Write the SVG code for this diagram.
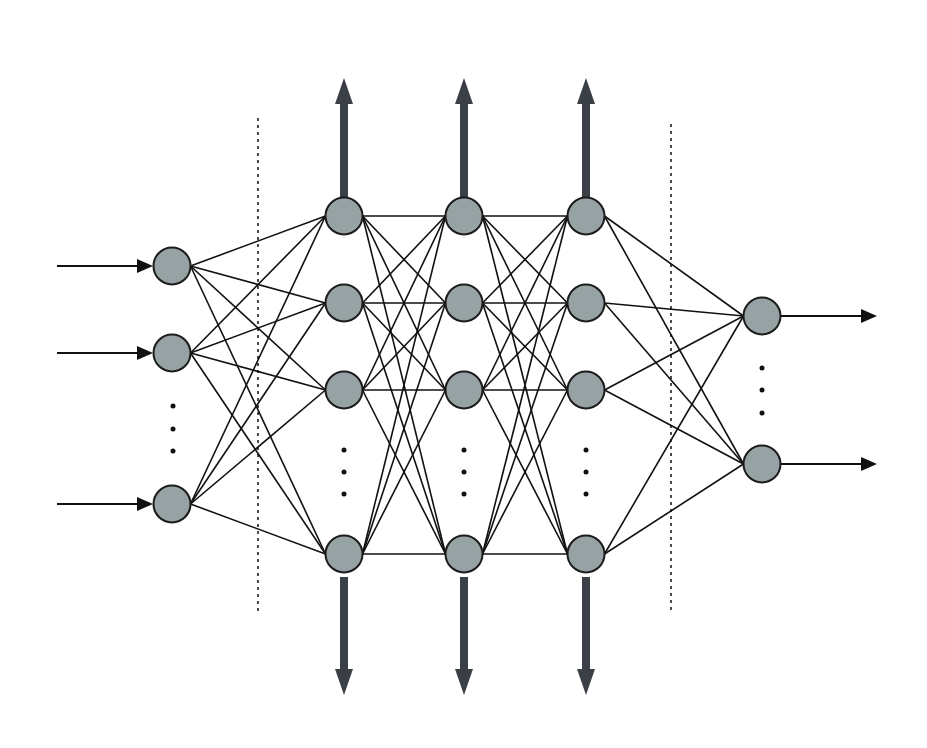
<svg xmlns="http://www.w3.org/2000/svg" width="927" height="748" viewBox="0 0 927 748">
<style>
.bg{fill:#ffffff}
.node{fill:#97a2a5;stroke:#1c1c1c;stroke-width:2}
.conn line{stroke:#111;stroke-width:1.6}
.conn line.io{stroke:#111;stroke-width:1.8}
.head{fill:#111}
.conn line.thick{stroke:#3b3f46;stroke-width:8}
.thead{fill:#3b3f46}
.dash{stroke:#111;stroke-width:1.5;stroke-dasharray:3 4}
.dot{fill:#111}
</style>
<rect class="bg" x="0" y="0" width="927" height="748"/>
<g id="dividers">
<line class="dash" x1="258" y1="118" x2="258" y2="612"/>
<line class="dash" x1="671" y1="124" x2="671" y2="612"/>
</g>
<g id="connectors" class="conn">
<line x1="190.5" y1="266" x2="325.5" y2="216"/><line x1="190.5" y1="266" x2="325.5" y2="303"/><line x1="190.5" y1="266" x2="325.5" y2="390"/><line x1="190.5" y1="266" x2="325.5" y2="554"/>
<line x1="190.5" y1="353" x2="325.5" y2="216"/><line x1="190.5" y1="353" x2="325.5" y2="303"/><line x1="190.5" y1="353" x2="325.5" y2="390"/><line x1="190.5" y1="353" x2="325.5" y2="554"/>
<line x1="190.5" y1="504" x2="325.5" y2="216"/><line x1="190.5" y1="504" x2="325.5" y2="303"/><line x1="190.5" y1="504" x2="325.5" y2="390"/><line x1="190.5" y1="504" x2="325.5" y2="554"/>
<line x1="362.5" y1="216" x2="445.5" y2="216"/><line x1="362.5" y1="216" x2="445.5" y2="303"/><line x1="362.5" y1="216" x2="445.5" y2="390"/><line x1="362.5" y1="216" x2="445.5" y2="554"/>
<line x1="362.5" y1="303" x2="445.5" y2="216"/><line x1="362.5" y1="303" x2="445.5" y2="303"/><line x1="362.5" y1="303" x2="445.5" y2="390"/><line x1="362.5" y1="303" x2="445.5" y2="554"/>
<line x1="362.5" y1="390" x2="445.5" y2="216"/><line x1="362.5" y1="390" x2="445.5" y2="303"/><line x1="362.5" y1="390" x2="445.5" y2="390"/><line x1="362.5" y1="390" x2="445.5" y2="554"/>
<line x1="362.5" y1="554" x2="445.5" y2="216"/><line x1="362.5" y1="554" x2="445.5" y2="303"/><line x1="362.5" y1="554" x2="445.5" y2="390"/><line x1="362.5" y1="554" x2="445.5" y2="554"/>
<line x1="482.5" y1="216" x2="567.5" y2="216"/><line x1="482.5" y1="216" x2="567.5" y2="303"/><line x1="482.5" y1="216" x2="567.5" y2="390"/><line x1="482.5" y1="216" x2="567.5" y2="554"/>
<line x1="482.5" y1="303" x2="567.5" y2="216"/><line x1="482.5" y1="303" x2="567.5" y2="303"/><line x1="482.5" y1="303" x2="567.5" y2="390"/><line x1="482.5" y1="303" x2="567.5" y2="554"/>
<line x1="482.5" y1="390" x2="567.5" y2="216"/><line x1="482.5" y1="390" x2="567.5" y2="303"/><line x1="482.5" y1="390" x2="567.5" y2="390"/><line x1="482.5" y1="390" x2="567.5" y2="554"/>
<line x1="482.5" y1="554" x2="567.5" y2="216"/><line x1="482.5" y1="554" x2="567.5" y2="303"/><line x1="482.5" y1="554" x2="567.5" y2="390"/><line x1="482.5" y1="554" x2="567.5" y2="554"/>
<line x1="604.5" y1="216" x2="743.5" y2="316"/><line x1="604.5" y1="216" x2="743.5" y2="464"/>
<line x1="604.5" y1="303" x2="743.5" y2="316"/><line x1="604.5" y1="303" x2="743.5" y2="464"/>
<line x1="604.5" y1="390" x2="743.5" y2="316"/><line x1="604.5" y1="390" x2="743.5" y2="464"/>
<line x1="604.5" y1="554" x2="743.5" y2="316"/><line x1="604.5" y1="554" x2="743.5" y2="464"/>
<line class="io" x1="57" y1="266" x2="140" y2="266"/><polygon class="head" points="153,266 137,259 137,273"/>
<line class="io" x1="57" y1="353" x2="140" y2="353"/><polygon class="head" points="153,353 137,346 137,360"/>
<line class="io" x1="57" y1="504" x2="140" y2="504"/><polygon class="head" points="153,504 137,497 137,511"/>
<line class="io" x1="781" y1="316" x2="864" y2="316"/><polygon class="head" points="877,316 861,309 861,323"/>
<line class="io" x1="781" y1="464" x2="864" y2="464"/><polygon class="head" points="877,464 861,457 861,471"/>
<line class="thick" x1="344" y1="198" x2="344" y2="100"/><polygon class="thead" points="344,78 335,104 353,104"/>
<line class="thick" x1="464" y1="198" x2="464" y2="100"/><polygon class="thead" points="464,78 455,104 473,104"/>
<line class="thick" x1="586" y1="198" x2="586" y2="100"/><polygon class="thead" points="586,78 577,104 595,104"/>
<line class="thick" x1="344" y1="577" x2="344" y2="673"/><polygon class="thead" points="344,695 335,669 353,669"/>
<line class="thick" x1="464" y1="577" x2="464" y2="673"/><polygon class="thead" points="464,695 455,669 473,669"/>
<line class="thick" x1="586" y1="577" x2="586" y2="673"/><polygon class="thead" points="586,695 577,669 595,669"/>
</g>
<g id="input-layer">
<circle class="node" cx="172" cy="266" r="18.5"/>
<circle class="node" cx="172" cy="353" r="18.5"/>
<circle class="node" cx="172" cy="504" r="18.5"/>
<circle class="dot" cx="173" cy="406" r="2.5"/><circle class="dot" cx="173" cy="429" r="2.5"/><circle class="dot" cx="173" cy="451" r="2.5"/>
</g>
<g id="hidden-layer-1">
<circle class="node" cx="344" cy="216" r="18.5"/>
<circle class="node" cx="344" cy="303" r="18.5"/>
<circle class="node" cx="344" cy="390" r="18.5"/>
<circle class="node" cx="344" cy="554" r="18.5"/>
<circle class="dot" cx="344" cy="450" r="2.5"/><circle class="dot" cx="344" cy="472" r="2.5"/><circle class="dot" cx="344" cy="494" r="2.5"/>
</g>
<g id="hidden-layer-2">
<circle class="node" cx="464" cy="216" r="18.5"/>
<circle class="node" cx="464" cy="303" r="18.5"/>
<circle class="node" cx="464" cy="390" r="18.5"/>
<circle class="node" cx="464" cy="554" r="18.5"/>
<circle class="dot" cx="464" cy="450" r="2.5"/><circle class="dot" cx="464" cy="472" r="2.5"/><circle class="dot" cx="464" cy="494" r="2.5"/>
</g>
<g id="hidden-layer-3">
<circle class="node" cx="586" cy="216" r="18.5"/>
<circle class="node" cx="586" cy="303" r="18.5"/>
<circle class="node" cx="586" cy="390" r="18.5"/>
<circle class="node" cx="586" cy="554" r="18.5"/>
<circle class="dot" cx="586" cy="450" r="2.5"/><circle class="dot" cx="586" cy="472" r="2.5"/><circle class="dot" cx="586" cy="494" r="2.5"/>
</g>
<g id="output-layer">
<circle class="node" cx="762" cy="316" r="18.5"/>
<circle class="node" cx="762" cy="464" r="18.5"/>
<circle class="dot" cx="762" cy="368" r="2.5"/><circle class="dot" cx="762" cy="390" r="2.5"/><circle class="dot" cx="762" cy="413" r="2.5"/>
</g>
</svg>
